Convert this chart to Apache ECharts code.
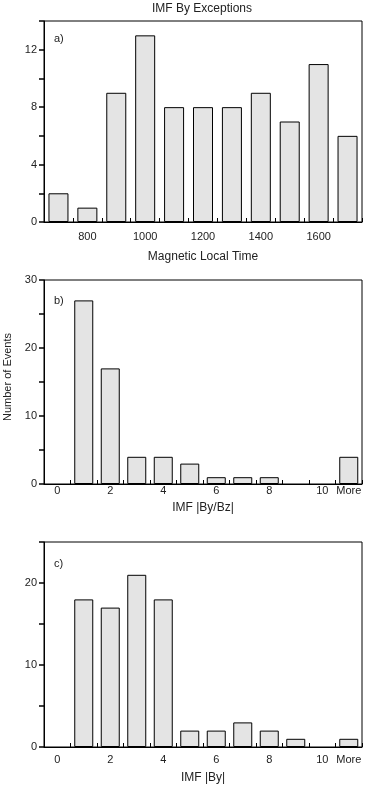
<!DOCTYPE html>
<html><head><meta charset="utf-8">
<script src="https://cdn.jsdelivr.net/npm/echarts@6/dist/echarts.min.js"></script>
<style>html,body{margin:0;padding:0;background:#fff}#c{width:365px;height:786px}</style>
</head><body><div id="c"></div>
<script>
// Panel a: IMF By exceptions vs Magnetic Local Time
const mltCategories = ['700','800','900','1000','1100','1200','1300','1400','1500','1600','1700'];
const mltCounts = [2,1,9,13,8,8,8,9,7,11,6];
// Panel b: IMF |By/Bz|
const ratioCategories = ['0','1','2','3','4','5','6','7','8','9','10','More'];
const ratioCounts = [0,27,17,4,4,3,1,1,1,0,0,4];
// Panel c: IMF |By|
const byCategories = ['0','1','2','3','4','5','6','7','8','9','10','More'];
const byCounts = [0,18,17,21,18,2,2,3,2,1,0,1];

const FONT = 'Liberation Sans';
const TXT = '#222';
const chart = echarts.init(document.getElementById('c'), null, {renderer:'canvas'});

const grids = [
  {left:44, top:21, width:318, height:201},
  {left:44, top:280, width:318, height:204},
  {left:44, top:542, width:318, height:205}
];
function xAx(i, cats, labelFn, name, margin, nameGap){
  return {
    type:'category', gridIndex:i, data:cats,
    axisLine:{show:true, lineStyle:{color:'#000', width:1}},
    axisTick:{show:true, inside:true, length:4, interval:0, lineStyle:{color:'#000', width:1}},
    axisLabel:{interval:labelFn, color:TXT, fontFamily:FONT, fontSize:11, margin:margin},
    name:name, nameLocation:'middle', nameGap:nameGap,
    nameTextStyle:{color:TXT, fontFamily:FONT, fontSize:12}
  };
}
function yAx(i, max, interval, labelStep, showMax, name){
  return {
    type:'value', gridIndex:i, min:0, max:max, interval:interval,
    axisLine:{show:true, lineStyle:{color:'#000', width:1}},
    axisTick:{show:true, inside:false, length:5, lineStyle:{color:'#000', width:1.5}},
    axisLabel:{color:TXT, fontFamily:FONT, fontSize:11, margin:7,
      formatter:function(v){ if (v === max && !showMax) return ''; return v % labelStep === 0 ? String(v) : ''; }},
    splitLine:{show:false},
    name:name||'', nameLocation:'middle', nameGap:28, nameRotate:90,
    nameTextStyle:{color:TXT, fontFamily:FONT, fontSize:11, padding:[0,0,0,10]}
  };
}
const barStyle = {color:'#e4e4e4', borderColor:'#000', borderWidth:1};
// zero-count bins draw nothing
const toItems = arr => arr.map(v => v === 0 ? {value:v, itemStyle:{opacity:0}} : v);
chart.setOption({
  animation:false,
  backgroundColor:'#fff',
  title:{text:'IMF By Exceptions', left:197, top:-2, textAlign:'center',
    textStyle:{color:TXT, fontFamily:FONT, fontSize:12, fontWeight:'normal'}},
  grid: grids.map(g => Object.assign({show:true, borderColor:'#000', borderWidth:1, backgroundColor:'transparent', containLabel:false, outerBoundsMode:'none'}, g)),
  xAxis:[
    xAx(0, mltCategories, (idx)=> idx%2===1, 'Magnetic Local Time', 9, 29),
    xAx(1, ratioCategories, (idx)=> idx%2===0 || idx===11, 'IMF |By/Bz|', 1, 18),
    xAx(2, byCategories, (idx)=> idx%2===0 || idx===11, 'IMF |By|', 7, 25)
  ],
  yAxis:[
    yAx(0, 14, 2, 4, false),
    yAx(1, 30, 5, 10, true, 'Number of Events'),
    yAx(2, 25, 5, 10, false)
  ],
  series:[
    {type:'bar', xAxisIndex:0, yAxisIndex:0, data:toItems(mltCounts), barWidth:20, itemStyle:barStyle},
    {type:'bar', xAxisIndex:1, yAxisIndex:1, data:toItems(ratioCounts), barWidth:19, itemStyle:barStyle},
    {type:'bar', xAxisIndex:2, yAxisIndex:2, data:toItems(byCounts), barWidth:19, itemStyle:barStyle}
  ],
  graphic:[
    {type:'text', left:54, top:33, style:{text:'a)', fill:TXT, font:'11px "Liberation Sans"'}},
    {type:'text', left:54, top:295, style:{text:'b)', fill:TXT, font:'11px "Liberation Sans"'}},
    {type:'text', left:54, top:558, style:{text:'c)', fill:TXT, font:'11px "Liberation Sans"'}}
  ]
});
</script></body></html>
